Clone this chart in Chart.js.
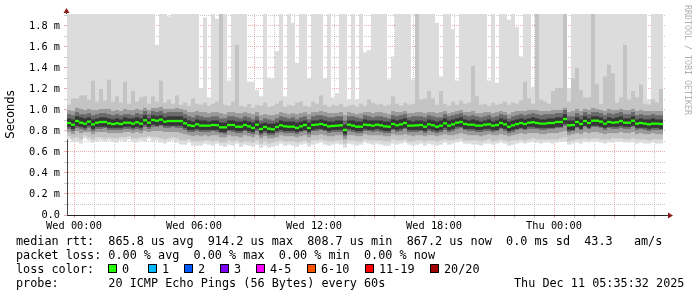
<!DOCTYPE html>
<html>
<head>
<meta charset="utf-8">
<script src="https://cdn.jsdelivr.net/npm/chart.js@4.4.0/dist/chart.umd.min.js"></script>
<style>
body { margin: 0; background: #fff; }
#wrap { position: relative; width: 697px; height: 297px; font-family: 'DejaVu Sans Mono', monospace; font-size: 11.8px; color: #000; }
#chart { position: absolute; left: 0; top: 0; }
.row { position: absolute; left: 16px; white-space: pre; line-height: 14px; }
.box { position: absolute; top: 264px; width: 7px; height: 7px; border: 1px solid #000; }
.lbl { position: absolute; top: 262px; white-space: pre; line-height: 14px; }
#credit { position: absolute; left: 683px; top: 5px; writing-mode: vertical-rl; font-size: 8.3px; line-height: 10px; color: #b0b0b0; }
</style>
</head>
<body>
<div id="wrap">
  <canvas id="chart" width="697" height="297"></canvas>
  <div id="credit">RRDTOOL / TOBI OETIKER</div>
  <div class="row" style="top:234px">median rtt:  865.8 us avg  914.2 us max  808.7 us min  867.2 us now  0.0 ms sd  43.3   am/s</div>
  <div class="row" style="top:248px">packet loss: 0.00 % avg  0.00 % max  0.00 % min  0.00 % now</div>
  <div class="row" style="top:262px">loss color:</div>
  <div class="box" style="left:108px;background:#26ff00"></div><div class="lbl" style="left:122px">0</div>
  <div class="box" style="left:148px;background:#00b8ff"></div><div class="lbl" style="left:162px">1</div>
  <div class="box" style="left:184px;background:#0059ff"></div><div class="lbl" style="left:198px">2</div>
  <div class="box" style="left:220px;background:#7e00ff"></div><div class="lbl" style="left:234px">3</div>
  <div class="box" style="left:256px;background:#ff00ff"></div><div class="lbl" style="left:270px">4-5</div>
  <div class="box" style="left:307px;background:#ff5500"></div><div class="lbl" style="left:321px">6-10</div>
  <div class="box" style="left:365px;background:#ff0000"></div><div class="lbl" style="left:379px">11-19</div>
  <div class="box" style="left:430px;background:#a10000"></div><div class="lbl" style="left:444px">20/20</div>
  <div class="row" style="top:276px">probe:       20 ICMP Echo Pings (56 Bytes) every 60s</div>
  <div class="row" style="top:276px;left:514px">Thu Dec 11 05:35:32 2025</div>
</div>
<script>
// time axis, minutes relative to Wed 00:00 (one smoke column = 12 min)
const startMinute = -21;
const stepMinutes = 12;
const endMinute = 1773;

const xTickMinutes = [0, 360, 720, 1080, 1440];
const xTickLabels = ['Wed 00:00', 'Wed 06:00', 'Wed 12:00', 'Wed 18:00', 'Thu 00:00'];

// median rtt per column (ms)
const medianRtt = [
  0.876,0.860,0.895,0.879,0.870,0.889,0.863,0.879,0.886,0.886,
  0.873,0.866,0.873,0.867,0.879,0.879,0.870,0.883,0.870,0.902,
  0.879,0.905,0.898,0.908,0.889,0.895,0.895,0.895,0.895,0.873,
  0.854,0.848,0.863,0.851,0.851,0.851,0.857,0.855,0.835,0.835,
  0.857,0.857,0.841,0.841,0.857,0.844,0.829,0.860,0.819,0.838,
  0.822,0.816,0.838,0.854,0.844,0.841,0.841,0.829,0.844,0.857,
  0.829,0.857,0.860,0.867,0.857,0.844,0.848,0.851,0.854,0.810,
  0.860,0.851,0.841,0.841,0.860,0.857,0.851,0.860,0.854,0.844,
  0.841,0.867,0.854,0.863,0.876,0.851,0.851,0.854,0.857,0.841,
  0.863,0.854,0.841,0.851,0.873,0.851,0.863,0.879,0.886,0.867,
  0.860,0.860,0.851,0.851,0.860,0.863,0.851,0.857,0.876,0.863,
  0.841,0.854,0.866,0.876,0.867,0.879,0.883,0.876,0.870,0.870,
  0.876,0.876,0.886,0.886,0.914,0.854,0.857,0.886,0.867,0.895,
  0.876,0.898,0.898,0.889,0.870,0.886,0.879,0.883,0.895,0.879,
  0.879,0.898,0.870,0.876,0.870,0.863,0.870,0.870,0.867
];

// slowest ping per column (values above the graph top are cut off)
const pingMax = [
  1.95,1.95,1.95,1.95,1.95,1.95,1.95,1.95,1.95,1.95,
  1.95,1.95,1.95,1.95,1.95,1.95,1.95,1.95,1.95,1.95,
  1.95,1.95,1.62,1.95,1.95,1.89,1.95,1.95,1.95,1.95,
  1.95,1.95,1.95,1.21,1.88,1.12,1.95,1.87,1.95,1.95,
  1.28,1.95,1.95,1.95,1.95,1.27,1.27,1.19,1.13,1.95,
  1.31,1.30,1.56,1.95,1.13,1.95,1.83,1.45,1.95,1.95,
  1.30,1.95,1.95,1.95,1.30,1.95,1.12,1.16,1.95,1.95,
  1.10,1.95,1.10,1.95,1.55,1.57,1.95,1.95,1.95,1.95,
  1.29,1.51,1.95,1.95,1.95,1.95,1.29,1.95,1.95,1.95,
  1.95,1.95,1.83,1.32,1.95,1.95,1.77,1.28,1.95,1.95,
  1.95,1.95,1.95,1.95,1.95,1.28,1.95,1.26,1.95,1.95,
  1.86,1.95,1.79,1.51,1.95,1.95,1.22,1.95,1.95,1.95,
  1.95,1.95,1.95,1.95,1.95,1.21,1.95,1.95,1.95,1.95,
  1.95,1.95,1.95,1.95,1.95,1.95,1.95,1.95,1.95,1.95,
  1.95,1.95,1.95,1.95,1.95,1.10,1.95,1.95,1.95
];

// fastest ping per column
const pingMin = [
  0.72,0.70,0.70,0.68,0.73,0.71,0.69,0.70,0.71,0.70,
  0.71,0.70,0.69,0.71,0.70,0.72,0.70,0.69,0.71,0.70,
  0.73,0.70,0.71,0.69,0.68,0.70,0.71,0.69,0.67,0.67,
  0.69,0.66,0.66,0.66,0.68,0.67,0.66,0.68,0.66,0.65,
  0.67,0.66,0.68,0.65,0.67,0.66,0.65,0.67,0.64,0.66,
  0.64,0.65,0.66,0.68,0.66,0.67,0.66,0.65,0.67,0.68,
  0.65,0.67,0.68,0.69,0.67,0.66,0.67,0.68,0.67,0.64,
  0.68,0.67,0.66,0.67,0.69,0.68,0.67,0.68,0.67,0.66,
  0.66,0.68,0.67,0.68,0.69,0.67,0.66,0.67,0.68,0.66,
  0.68,0.67,0.66,0.67,0.69,0.67,0.68,0.69,0.70,0.68,
  0.68,0.67,0.67,0.66,0.68,0.68,0.67,0.68,0.69,0.68,
  0.66,0.67,0.68,0.69,0.68,0.69,0.70,0.69,0.68,0.69,
  0.69,0.68,0.69,0.70,0.70,0.67,0.68,0.69,0.68,0.70,
  0.69,0.70,0.70,0.69,0.68,0.69,0.69,0.70,0.70,0.69,
  0.69,0.70,0.68,0.69,0.68,0.68,0.69,0.68,0.68
];

// 2nd / 19th ping
const band2Hi = [
  1.05,1.11,1.11,1.14,1.14,1.10,1.28,1.08,1.20,1.09,
  1.29,1.08,1.13,1.07,1.27,1.06,1.18,1.08,1.12,1.13,
  1.06,1.13,1.08,1.28,1.07,1.10,1.06,1.14,1.05,1.07,
  1.04,1.11,1.06,1.05,1.07,1.04,1.06,1.08,1.95,1.05,
  1.04,1.08,1.62,1.04,1.03,1.06,1.02,1.05,1.04,1.07,
  1.03,1.04,1.06,1.09,1.03,1.05,1.04,1.07,1.08,1.04,
  1.03,1.08,1.06,1.14,1.05,1.03,1.05,1.04,1.06,1.03,
  1.04,1.05,1.03,1.06,1.04,1.10,1.07,1.05,1.06,1.04,
  1.05,1.13,1.06,1.04,1.07,1.05,1.06,1.95,1.10,1.11,
  1.18,1.11,1.05,1.18,1.06,1.04,1.08,1.05,1.09,1.06,
  1.07,1.42,1.13,1.05,1.06,1.04,1.07,1.05,1.06,1.08,
  1.05,1.07,1.06,1.09,1.27,1.11,1.06,1.95,1.10,1.08,
  1.06,1.18,1.21,1.21,1.95,1.08,1.30,1.40,1.19,1.12,
  1.12,1.95,1.25,1.06,1.32,1.43,1.35,1.07,1.12,1.62,
  1.10,1.18,1.12,1.24,1.06,1.05,1.10,1.07,1.20
];
const band2Lo = [
  0.75,0.73,0.74,0.72,0.76,0.74,0.72,0.74,0.74,0.73,
  0.74,0.73,0.73,0.74,0.74,0.75,0.73,0.73,0.74,0.74,
  0.75,0.74,0.74,0.73,0.72,0.73,0.74,0.73,0.71,0.71,
  0.72,0.70,0.70,0.70,0.71,0.71,0.70,0.71,0.69,0.69,
  0.71,0.70,0.71,0.69,0.70,0.70,0.69,0.71,0.68,0.70,
  0.68,0.69,0.70,0.71,0.70,0.70,0.70,0.69,0.70,0.71,
  0.69,0.71,0.71,0.72,0.71,0.70,0.70,0.71,0.71,0.68,
  0.71,0.71,0.70,0.70,0.72,0.71,0.71,0.71,0.71,0.70,
  0.70,0.72,0.71,0.71,0.72,0.70,0.70,0.71,0.71,0.70,
  0.71,0.71,0.70,0.71,0.72,0.71,0.71,0.72,0.73,0.71,
  0.71,0.71,0.71,0.70,0.71,0.72,0.70,0.71,0.72,0.71,
  0.70,0.71,0.71,0.72,0.71,0.72,0.73,0.72,0.72,0.72,
  0.72,0.72,0.72,0.73,0.74,0.70,0.71,0.72,0.72,0.73,
  0.72,0.73,0.73,0.72,0.72,0.72,0.73,0.73,0.73,0.72,
  0.72,0.73,0.72,0.72,0.72,0.71,0.72,0.72,0.72
];

// middle of the smoke
const band3Hi = [
  1.00,0.99,1.02,1.01,1.00,1.01,1.00,1.00,1.01,1.01,
  1.01,0.99,1.00,0.99,1.01,1.00,1.00,1.01,1.00,1.02,
  1.00,1.02,1.02,1.03,1.01,1.01,1.01,1.02,1.01,1.00,
  0.98,0.98,0.99,0.98,0.98,0.97,0.98,0.98,0.97,0.96,
  0.98,0.98,0.97,0.97,0.98,0.97,0.96,0.98,0.95,0.96,
  0.95,0.95,0.96,0.98,0.97,0.96,0.97,0.96,0.97,0.98,
  0.96,0.98,0.98,0.99,0.98,0.97,0.97,0.97,0.98,0.95,
  0.98,0.97,0.96,0.97,0.98,0.98,0.97,0.98,0.98,0.97,
  0.96,0.99,0.98,0.98,0.99,0.97,0.97,0.98,0.98,0.97,
  0.98,0.98,0.97,0.98,0.99,0.97,0.98,0.99,1.00,0.98,
  0.98,0.99,0.97,0.97,0.98,0.98,0.97,0.98,0.99,0.98,
  0.96,0.98,0.99,0.99,0.99,1.00,1.00,1.00,0.99,0.99,
  0.99,1.00,1.00,1.00,1.02,0.98,0.99,1.01,0.99,1.01,
  1.00,1.02,1.01,1.00,0.99,1.01,1.00,1.00,1.01,1.00,
  1.00,1.01,0.99,1.00,0.99,0.99,0.99,0.99,0.99
];
const band3Lo = [
  0.79,0.77,0.80,0.78,0.79,0.79,0.77,0.79,0.79,0.79,
  0.78,0.78,0.78,0.78,0.79,0.79,0.78,0.79,0.78,0.80,
  0.79,0.80,0.80,0.80,0.79,0.79,0.79,0.79,0.78,0.77,
  0.76,0.75,0.76,0.75,0.76,0.75,0.76,0.76,0.74,0.74,
  0.76,0.75,0.75,0.74,0.76,0.75,0.74,0.76,0.73,0.75,
  0.73,0.73,0.74,0.76,0.75,0.75,0.75,0.74,0.75,0.76,
  0.74,0.76,0.76,0.77,0.76,0.75,0.75,0.76,0.76,0.72,
  0.76,0.76,0.75,0.75,0.77,0.76,0.76,0.76,0.76,0.75,
  0.75,0.77,0.76,0.76,0.77,0.76,0.75,0.76,0.76,0.75,
  0.76,0.76,0.75,0.76,0.77,0.76,0.76,0.77,0.78,0.77,
  0.76,0.76,0.76,0.75,0.76,0.77,0.76,0.76,0.77,0.76,
  0.75,0.76,0.77,0.78,0.77,0.78,0.78,0.78,0.77,0.77,
  0.78,0.78,0.78,0.79,0.80,0.76,0.77,0.78,0.77,0.79,
  0.78,0.79,0.79,0.78,0.77,0.78,0.78,0.78,0.79,0.78,
  0.78,0.79,0.77,0.78,0.77,0.77,0.78,0.77,0.77
];

// inner smoke, between the middle band and the core
const bandInnerHi = [
  0.96,0.95,0.98,0.96,0.96,0.97,0.95,0.96,0.97,0.97,
  0.96,0.95,0.96,0.95,0.96,0.96,0.95,0.97,0.96,0.99,
  0.96,0.99,0.98,0.99,0.97,0.98,0.98,0.98,0.98,0.96,
  0.94,0.93,0.95,0.94,0.93,0.93,0.94,0.94,0.92,0.92,
  0.94,0.94,0.93,0.92,0.94,0.93,0.91,0.94,0.90,0.92,
  0.91,0.90,0.92,0.94,0.93,0.92,0.93,0.91,0.93,0.94,
  0.91,0.94,0.95,0.95,0.94,0.93,0.93,0.94,0.94,0.90,
  0.94,0.94,0.93,0.92,0.95,0.94,0.93,0.94,0.94,0.93,
  0.92,0.95,0.94,0.95,0.96,0.93,0.94,0.94,0.94,0.93,
  0.95,0.94,0.93,0.93,0.96,0.94,0.95,0.96,0.97,0.95,
  0.94,0.95,0.94,0.93,0.94,0.95,0.93,0.94,0.96,0.95,
  0.92,0.94,0.95,0.96,0.95,0.96,0.97,0.96,0.95,0.96,
  0.96,0.96,0.97,0.97,1.00,0.94,0.94,0.97,0.95,0.98,
  0.96,0.98,0.98,0.97,0.95,0.97,0.96,0.97,0.98,0.96,
  0.96,0.98,0.95,0.96,0.95,0.95,0.96,0.95,0.95
];
const bandInnerLo = [
  0.82,0.80,0.83,0.82,0.81,0.83,0.80,0.82,0.82,0.83,
  0.81,0.81,0.81,0.81,0.82,0.82,0.81,0.82,0.81,0.84,
  0.82,0.84,0.84,0.85,0.83,0.83,0.84,0.83,0.83,0.81,
  0.79,0.79,0.80,0.79,0.79,0.79,0.80,0.79,0.78,0.77,
  0.80,0.79,0.78,0.78,0.80,0.78,0.77,0.80,0.76,0.78,
  0.76,0.76,0.78,0.79,0.78,0.78,0.78,0.77,0.79,0.80,
  0.77,0.80,0.80,0.81,0.80,0.78,0.79,0.79,0.79,0.75,
  0.80,0.79,0.78,0.78,0.80,0.80,0.79,0.80,0.79,0.78,
  0.78,0.81,0.79,0.80,0.82,0.79,0.79,0.79,0.80,0.78,
  0.80,0.79,0.78,0.79,0.81,0.79,0.80,0.82,0.83,0.81,
  0.80,0.80,0.79,0.79,0.80,0.80,0.79,0.80,0.82,0.80,
  0.78,0.79,0.81,0.82,0.81,0.82,0.82,0.82,0.81,0.81,
  0.82,0.82,0.83,0.83,0.85,0.79,0.80,0.83,0.81,0.84,
  0.82,0.84,0.84,0.83,0.81,0.83,0.82,0.82,0.83,0.82,
  0.82,0.84,0.81,0.82,0.81,0.80,0.81,0.81,0.81
];

// dense core around the median
const band4Hi = [
  0.92,0.91,0.94,0.93,0.92,0.93,0.91,0.92,0.93,0.93,
  0.92,0.91,0.92,0.91,0.93,0.92,0.92,0.93,0.92,0.95,
  0.92,0.95,0.94,0.95,0.93,0.94,0.94,0.94,0.94,0.92,
  0.90,0.89,0.91,0.90,0.90,0.89,0.90,0.90,0.88,0.88,
  0.90,0.90,0.89,0.89,0.90,0.89,0.88,0.90,0.87,0.88,
  0.87,0.87,0.88,0.90,0.89,0.89,0.89,0.88,0.89,0.90,
  0.88,0.90,0.90,0.91,0.90,0.89,0.89,0.90,0.90,0.86,
  0.90,0.90,0.89,0.89,0.91,0.90,0.90,0.90,0.90,0.89,
  0.89,0.91,0.90,0.91,0.92,0.90,0.89,0.90,0.90,0.89,
  0.91,0.90,0.89,0.90,0.92,0.90,0.91,0.92,0.93,0.91,
  0.90,0.91,0.90,0.89,0.90,0.91,0.89,0.90,0.92,0.91,
  0.89,0.90,0.91,0.92,0.91,0.92,0.93,0.92,0.91,0.91,
  0.92,0.92,0.93,0.93,0.96,0.90,0.90,0.93,0.91,0.94,
  0.92,0.94,0.94,0.93,0.91,0.93,0.92,0.93,0.94,0.92,
  0.92,0.94,0.91,0.92,0.91,0.91,0.92,0.91,0.91
];
const band4Lo = [
  0.84,0.82,0.85,0.84,0.83,0.85,0.82,0.84,0.84,0.84,
  0.83,0.83,0.83,0.83,0.84,0.84,0.83,0.84,0.83,0.86,
  0.84,0.86,0.85,0.86,0.85,0.85,0.85,0.85,0.85,0.83,
  0.81,0.81,0.82,0.81,0.81,0.81,0.81,0.81,0.79,0.79,
  0.81,0.81,0.80,0.80,0.81,0.80,0.79,0.82,0.78,0.80,
  0.78,0.78,0.80,0.81,0.80,0.80,0.80,0.79,0.80,0.81,
  0.79,0.81,0.82,0.82,0.81,0.80,0.81,0.81,0.81,0.77,
  0.82,0.81,0.80,0.80,0.82,0.81,0.81,0.82,0.81,0.80,
  0.80,0.82,0.81,0.82,0.83,0.81,0.81,0.81,0.81,0.80,
  0.82,0.81,0.80,0.81,0.83,0.81,0.82,0.84,0.84,0.82,
  0.82,0.82,0.81,0.81,0.82,0.82,0.81,0.81,0.83,0.82,
  0.80,0.81,0.82,0.83,0.82,0.84,0.84,0.83,0.83,0.83,
  0.83,0.83,0.84,0.84,0.87,0.81,0.81,0.84,0.82,0.85,
  0.83,0.85,0.85,0.84,0.83,0.84,0.84,0.84,0.85,0.84,
  0.84,0.85,0.83,0.83,0.83,0.82,0.83,0.83,0.82
];

const columnX = medianRtt.map((_, i) => startMinute + stepMinutes * (i + 0.5));

function band(lo, hi) {
  return columnX.map((x, i) => ({ x: x, y: [lo[i], hi[i]] }));
}

// the median is drawn as a thin green strip, like smokeping does
const medianHalf = 0.011;
const medianData = columnX.map((x, i) => ({ x: x, y: [medianRtt[i] - medianHalf, medianRtt[i] + medianHalf] }));

const majorGrid = 'rgba(225, 90, 90, 0.5)';
const minorGrid = 'rgba(150, 150, 150, 0.5)';
const tickFont = { family: 'DejaVu Sans Mono', size: 10.3 };

const axisArrows = {
  id: 'axisArrows',
  afterDraw(chart) {
    const { ctx, chartArea: a } = chart;
    ctx.save();
    ctx.strokeStyle = '#333';
    ctx.lineWidth = 1;
    ctx.beginPath();
    ctx.moveTo(a.right, a.bottom + 0.5);
    ctx.lineTo(a.right + 4, a.bottom + 0.5);
    ctx.moveTo(a.left - 0.5, a.top);
    ctx.lineTo(a.left - 0.5, a.top - 2);
    ctx.stroke();
    ctx.fillStyle = '#8b1a1a';
    ctx.beginPath();
    ctx.moveTo(a.right + 8, a.bottom + 0.5);
    ctx.lineTo(a.right + 3, a.bottom - 2.5);
    ctx.lineTo(a.right + 3, a.bottom + 3.5);
    ctx.fill();
    ctx.beginPath();
    ctx.moveTo(a.left - 0.5, a.top - 6);
    ctx.lineTo(a.left - 3.5, a.top - 1);
    ctx.lineTo(a.left + 2.5, a.top - 1);
    ctx.fill();
    ctx.restore();
  }
};

const ctx = document.getElementById('chart').getContext('2d');
new Chart(ctx, {
  type: 'bar',
  data: {
    datasets: [
      { label: 'median', data: medianData, backgroundColor: '#26ff00', order: 0 },
      { label: 'core', data: band(band4Lo, band4Hi), backgroundColor: '#363636', order: 1 },
      { label: 'inner', data: band(bandInnerLo, bandInnerHi), backgroundColor: '#6a6a6a', order: 2 },
      { label: 'mid', data: band(band3Lo, band3Hi), backgroundColor: '#9a9a9a', order: 3 },
      { label: 'outer', data: band(band2Lo, band2Hi), backgroundColor: '#c4c4c4', order: 4 },
      { label: 'min-max', data: band(pingMin, pingMax), backgroundColor: '#dcdcdc', order: 5 }
    ]
  },
  options: {
    responsive: false,
    animation: false,
    layout: { padding: { top: 14, right: 32, bottom: 0, left: 0 } },
    datasets: {
      bar: { grouped: false, barPercentage: 1, categoryPercentage: 1, borderWidth: 0, inflateAmount: 0 }
    },
    plugins: {
      legend: { display: false },
      tooltip: { enabled: false }
    },
    scales: {
      x: {
        type: 'linear',
        offset: false,
        min: startMinute,
        max: endMinute,
        z: 1,
        afterFit: (s) => { s.height = 82; },
        afterBuildTicks: (s) => {
          const t = [];
          for (let m = 0; m <= endMinute; m += 60) t.push({ value: m });
          s.ticks = t;
        },
        grid: {
          offset: false,
          color: (c) => (c.tick && c.tick.value % 180 === 0 ? majorGrid : minorGrid),
          tickLength: 3
        },
        border: { display: true, color: '#222', dash: [1, 1] },
        ticks: {
          autoSkip: false,
          maxRotation: 0,
          minRotation: 0,
          padding: 2,
          color: '#000',
          font: tickFont,
          callback: (v) => {
            const k = xTickMinutes.indexOf(v);
            return k >= 0 ? xTickLabels[k] : '';
          }
        }
      },
      y: {
        min: 0,
        max: 1.914,
        z: 1,
        afterFit: (s) => { s.width = 67; },
        afterBuildTicks: (s) => {
          const t = [];
          for (let k = 0; k <= 19; k++) t.push({ value: k / 10 });
          s.ticks = t;
        },
        grid: {
          color: (c) => (c.tick && Math.round(c.tick.value * 10) % 2 === 0 ? majorGrid : minorGrid),
          tickLength: 3
        },
        border: { display: true, color: '#444', dash: [1, 1] },
        title: {
          display: true,
          text: 'Seconds',
          color: '#000',
          font: { family: 'DejaVu Sans', size: 11.5 }
        },
        ticks: {
          autoSkip: false,
          padding: 4,
          color: '#000',
          font: tickFont,
          callback: (v) => {
            const k = Math.round(v * 10);
            if (k % 2 !== 0) return '';
            return k === 0 ? '0.0' : (k / 10).toFixed(1) + ' m';
          }
        }
      }
    }
  },
  plugins: [axisArrows]
});
</script>
</body>
</html>
